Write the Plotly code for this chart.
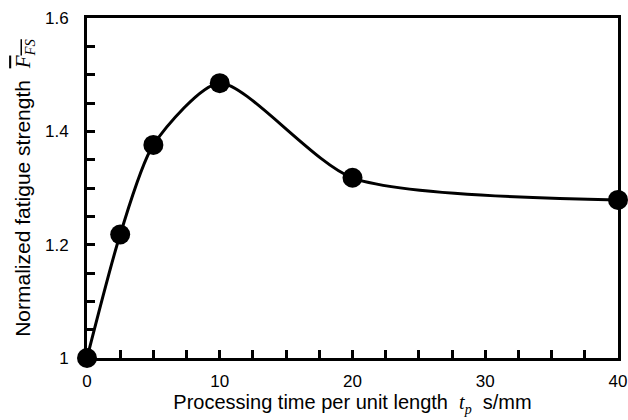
import plotly.graph_objects as go

time_s_per_mm = [0, 2.5, 5, 10, 20, 40]
fatigue_norm = [1.0, 1.218, 1.376, 1.485, 1.318, 1.279]

x_ticks = [0, 10, 20, 30, 40]
y_ticks = [1.0, 1.2, 1.4, 1.6]
y_tick_text = ["1", "1.2", "1.4", "1.6"]

fig = go.Figure()
fig.add_trace(go.Scatter(
    x=time_s_per_mm, y=fatigue_norm,
    mode="lines+markers",
    line=dict(color="black", width=3, shape="spline", smoothing=0.7),
    marker=dict(color="black", size=20),
    cliponaxis=False,
    showlegend=False,
))

font = "Liberation Sans, Arial, sans-serif"
fig.update_layout(
    width=628, height=420,
    margin=dict(l=87, r=10, t=18, b=62),
    paper_bgcolor="white", plot_bgcolor="white",
    font=dict(family=font, size=17, color="black"),
    xaxis=dict(
        range=[0, 40], tickvals=x_ticks, automargin=False,
        showgrid=False, zeroline=False,
        showline=True, linecolor="black", linewidth=3, mirror=True,
        ticks="inside", ticklen=8, tickwidth=3, tickcolor="black",
        minor=dict(dtick=2.5, ticks="inside", ticklen=8, tickwidth=3, tickcolor="black", showgrid=False),
        tickfont=dict(size=17), ticklabelstandoff=6,
        title=dict(
            text="Processing time per unit length  <span style='font-family:Liberation Serif'><i>t<sub>p</sub></i></span>  s/mm",
            font=dict(size=20), standoff=4),
    ),
    yaxis=dict(
        range=[1.0, 1.6], tickvals=y_ticks, ticktext=y_tick_text, automargin=False,
        showgrid=False, zeroline=False,
        showline=True, linecolor="black", linewidth=3, mirror=True,
        ticks="inside", ticklen=8, tickwidth=3, tickcolor="black",
        minor=dict(dtick=0.05, ticks="inside", ticklen=8, tickwidth=3, tickcolor="black", showgrid=False),
        tickfont=dict(size=17), ticklabelstandoff=12,
        title=dict(
            text="Normalized fatigue strength  <span style='font-family:Liberation Serif;text-decoration:overline'><i>F<sub>FS</sub></i></span>",
            font=dict(size=21), standoff=9),
    ),
)

fig.write_html("out.html")
